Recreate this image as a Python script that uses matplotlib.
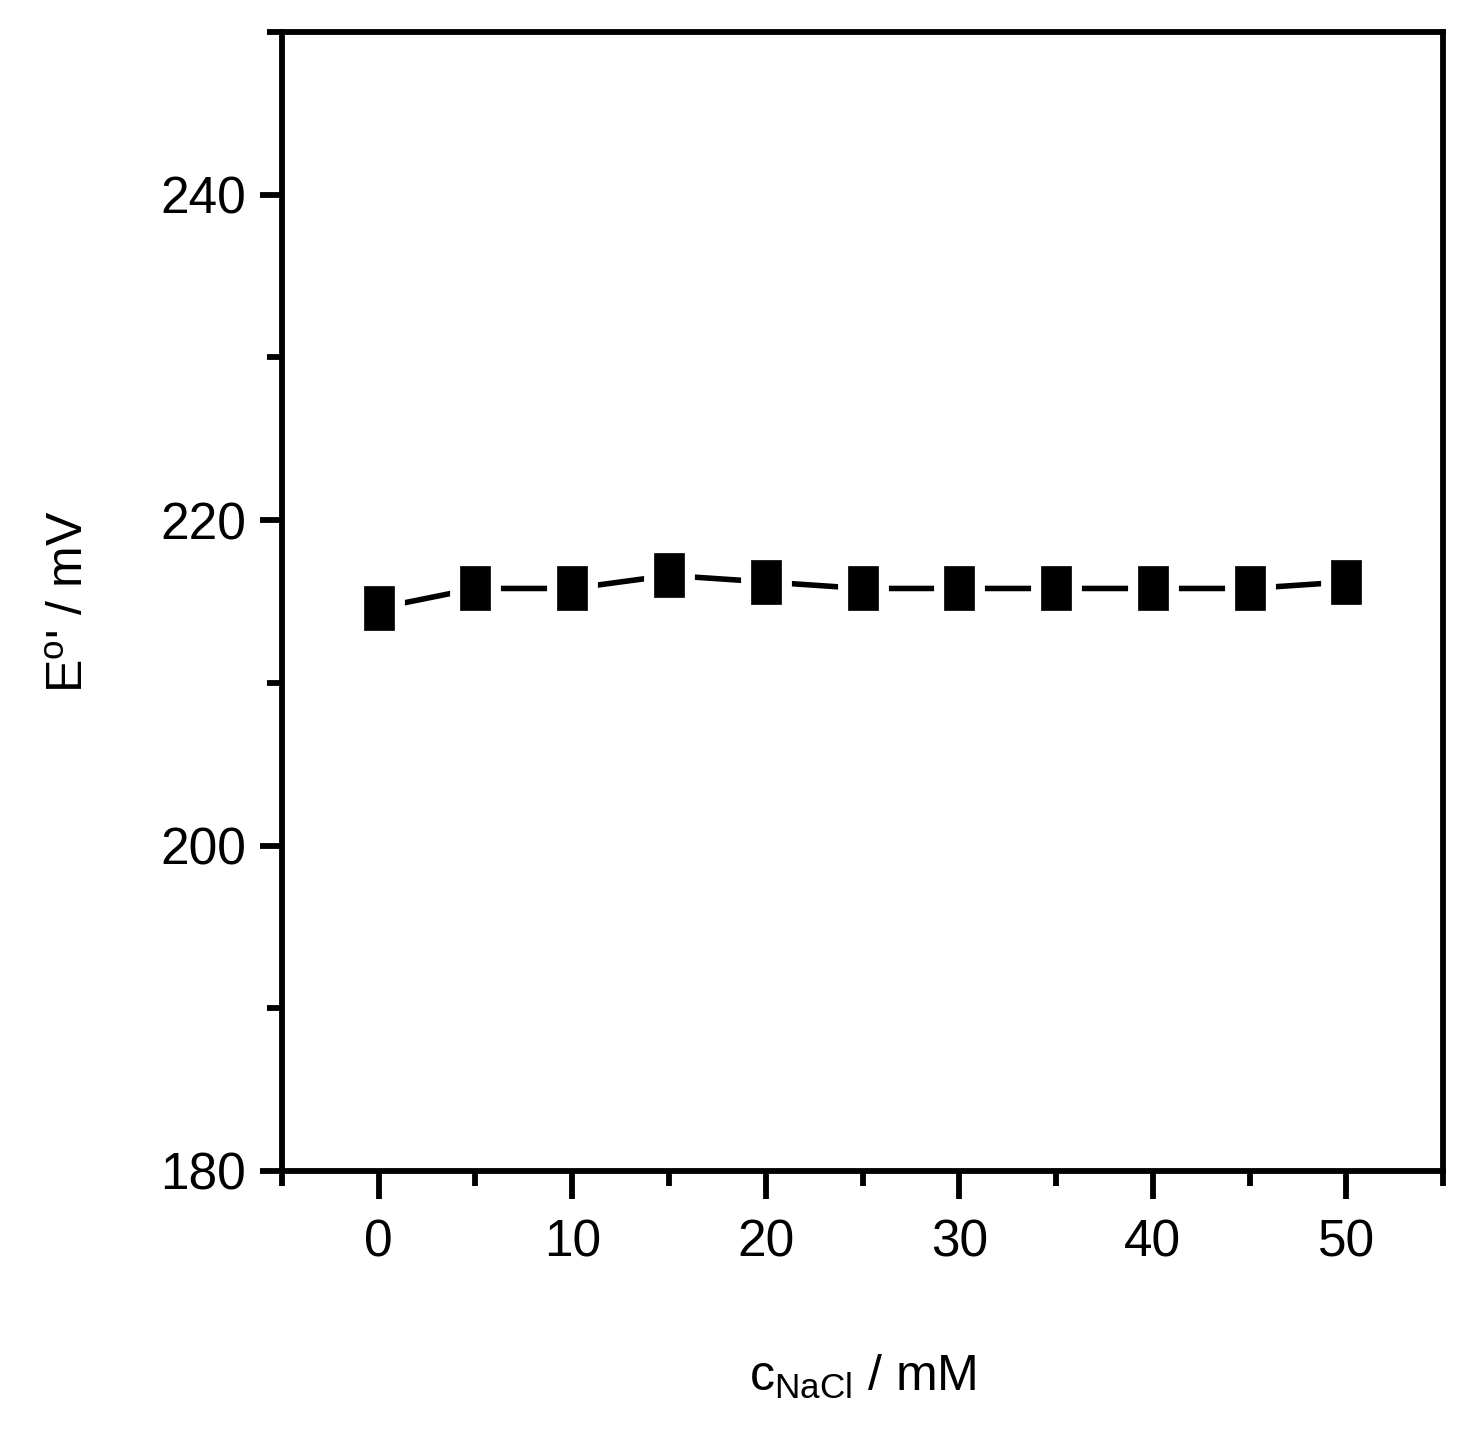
import numpy as np
import matplotlib.pyplot as plt
from matplotlib.ticker import MultipleLocator

plt.rcParams['font.family'] = ['Liberation Sans', 'DejaVu Sans']
plt.rcParams['mathtext.fontset'] = 'custom'
plt.rcParams['mathtext.rm'] = 'Liberation Sans'
plt.rcParams['mathtext.it'] = 'Liberation Sans'

# NaCl concentration (mM) and formal potential (mV)
c_nacl = [0, 5, 10, 15, 20, 25, 30, 35, 40, 45, 50]
e_formal = [214.6, 215.8, 215.8, 216.6, 216.2, 215.8, 215.8, 215.8, 215.8, 215.8, 216.2]

# tall rectangle marker like the original
rect = [(-0.35, -0.5), (0.35, -0.5), (0.35, 0.5), (-0.35, 0.5), (-0.35, -0.5)]

fig = plt.figure(figsize=(14.76, 14.41), dpi=100)
ax = fig.add_axes([0.191, 0.1874, 0.7867, 0.7904])

ax.plot(c_nacl, e_formal, color='black', lw=4.0, zorder=2)
# white halo cuts the line short of each marker
ax.plot(c_nacl, e_formal, ls='none', marker=rect, ms=31, mfc='white',
        mec='white', mew=15, zorder=3)
ax.plot(c_nacl, e_formal, ls='none', marker=rect, ms=31, mfc='black',
        mec='black', mew=0.5, zorder=4)

ax.set_xlim(-5, 55)
ax.set_ylim(180, 250)
ax.xaxis.set_major_locator(MultipleLocator(10))
ax.xaxis.set_minor_locator(MultipleLocator(5))
ax.yaxis.set_minor_locator(MultipleLocator(10))
ax.set_yticks([180, 200, 220, 240])

for s in ax.spines.values():
    s.set_linewidth(4.2)

ax.tick_params(which='major', direction='out', width=4.2, labelsize=37)
ax.tick_params(axis='x', which='major', length=20, pad=14)
ax.tick_params(axis='y', which='major', length=16, pad=10)
ax.tick_params(which='minor', direction='out', length=11, width=4.2)
ax.tick_params(top=False, right=False, which='both')

ax.set_xlabel(r'c$_{\mathrm{NaCl}}$ / mM', fontsize=36, labelpad=62)
ax.set_ylabel(r"E$^{\mathrm{o}}$' / mV", fontsize=36, labelpad=48)

fig.savefig('out.png', dpi=100)
